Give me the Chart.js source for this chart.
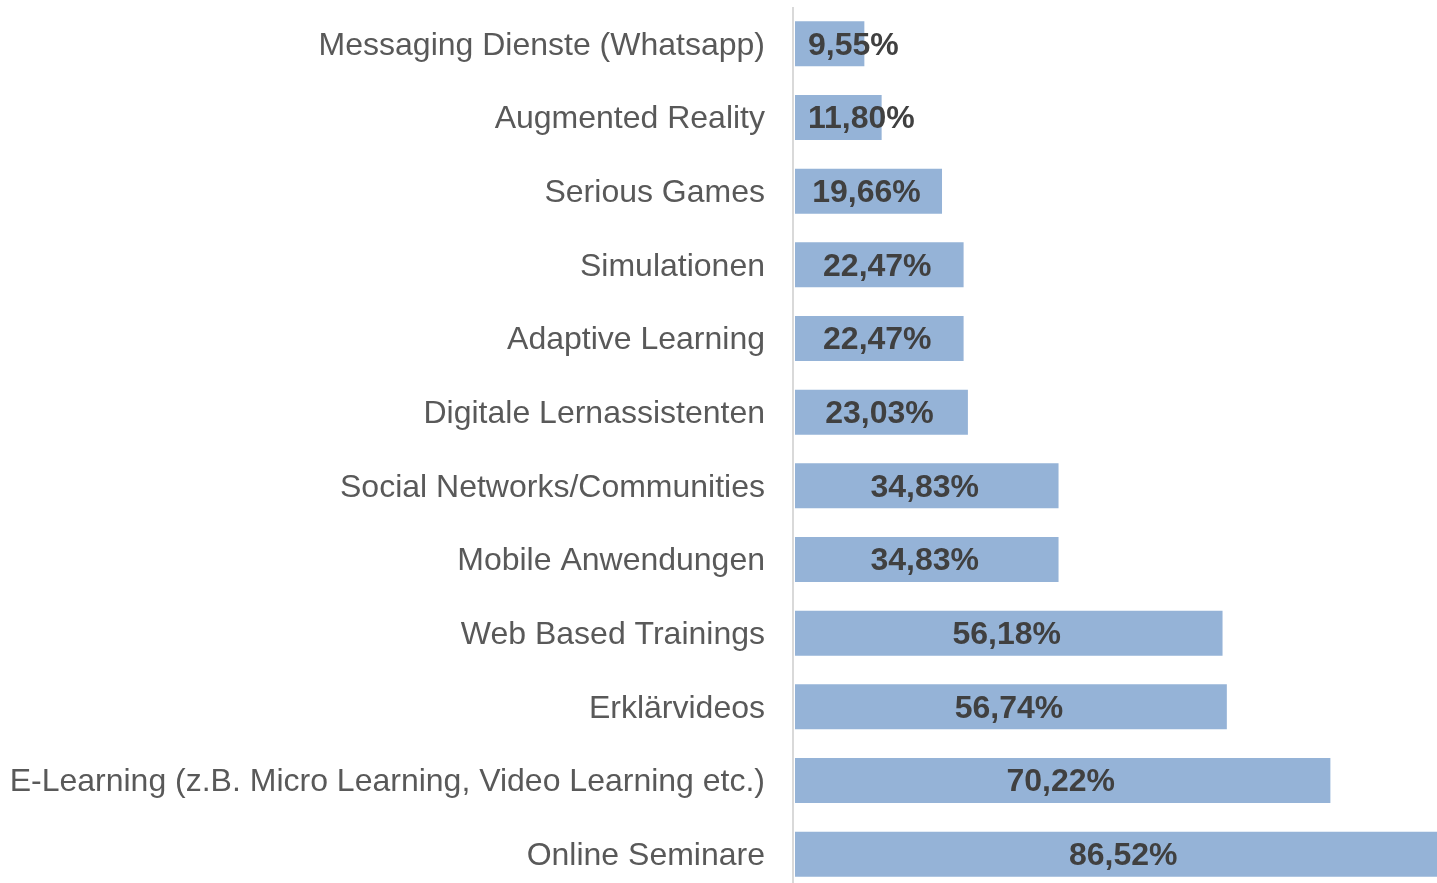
<!DOCTYPE html>
<html>
<head>
<meta charset="utf-8">
<script src="https://cdn.jsdelivr.net/npm/chart.js@4"></script>
<style>
    html, body { margin: 0; padding: 0; background: #fff; overflow: hidden; }
    #wrap { width: 1437px; height: 900px; }
</style>
</head>
<body>
<div id="wrap"><canvas id="chart" width="1437" height="900"></canvas></div>
<script>
const categories = [
    'Messaging Dienste (Whatsapp)',
    'Augmented Reality',
    'Serious Games',
    'Simulationen',
    'Adaptive Learning',
    'Digitale Lernassistenten',
    'Social Networks/Communities',
    'Mobile Anwendungen',
    'Web Based Trainings',
    'Erklärvideos',
    'E-Learning (z.B. Micro Learning, Video Learning etc.)',
    'Online Seminare'
];
const shares = [9.55, 11.80, 19.66, 22.47, 22.47, 23.03, 34.83, 34.83, 56.18, 56.74, 70.22, 86.52];

function formatPercent(v) {
    return v.toFixed(2).replace('.', ',') + '%';
}

// value labels + the axis line drawn over the bars
const barLabels = {
    id: 'barLabels',
    afterDatasetsDraw(chart) {
        const ctx = chart.ctx;
        const area = chart.chartArea;
        const meta = chart.getDatasetMeta(0);

        ctx.save();
        ctx.fillStyle = '#ffffff';
        ctx.fillRect(area.left, area.top, 4, chart.height - area.top);
        ctx.fillStyle = '#d9d9d9';
        ctx.fillRect(area.left + 1, area.top, 2, chart.height - area.top);

        ctx.font = 'bold 32px "Liberation Sans", Arial, sans-serif';
        ctx.fillStyle = '#404040';
        ctx.textAlign = 'center';
        ctx.textBaseline = 'middle';
        meta.data.forEach((bar, i) => {
            const text = formatPercent(shares[i]);
            const w = ctx.measureText(text).width;
            let x = (bar.base + bar.x) / 2;
            x = Math.max(x, area.left + 17 + w / 2);
            ctx.fillText(text, x, bar.y + 2);
        });
        ctx.restore();
    }
};

new Chart(document.getElementById('chart'), {
    type: 'bar',
    data: {
        labels: categories,
        datasets: [{
            data: shares,
            backgroundColor: '#95b3d7',
            borderWidth: 0,
            categoryPercentage: 1,
            barPercentage: 0.61
        }]
    },
    options: {
        indexAxis: 'y',
        responsive: false,
        animation: false,
        layout: { padding: { top: 7, bottom: 9, left: 0, right: 0 } },
        plugins: {
            legend: { display: false },
            tooltip: { enabled: false }
        },
        scales: {
            x: {
                display: false,
                min: 0,
                max: 84.1
            },
            y: {
                grid: { display: false, drawTicks: false },
                border: { display: false },
                ticks: {
                    padding: 26,
                    labelOffset: 2,
                    color: '#595959',
                    font: { family: '"Liberation Sans", Arial, sans-serif', size: 32 }
                },
                afterFit(scale) {
                    scale.width = 791;
                    scale.paddingTop = 0;
                    scale.paddingBottom = 0;
                }
            }
        }
    },
    plugins: [barLabels]
});
</script>
</body>
</html>
